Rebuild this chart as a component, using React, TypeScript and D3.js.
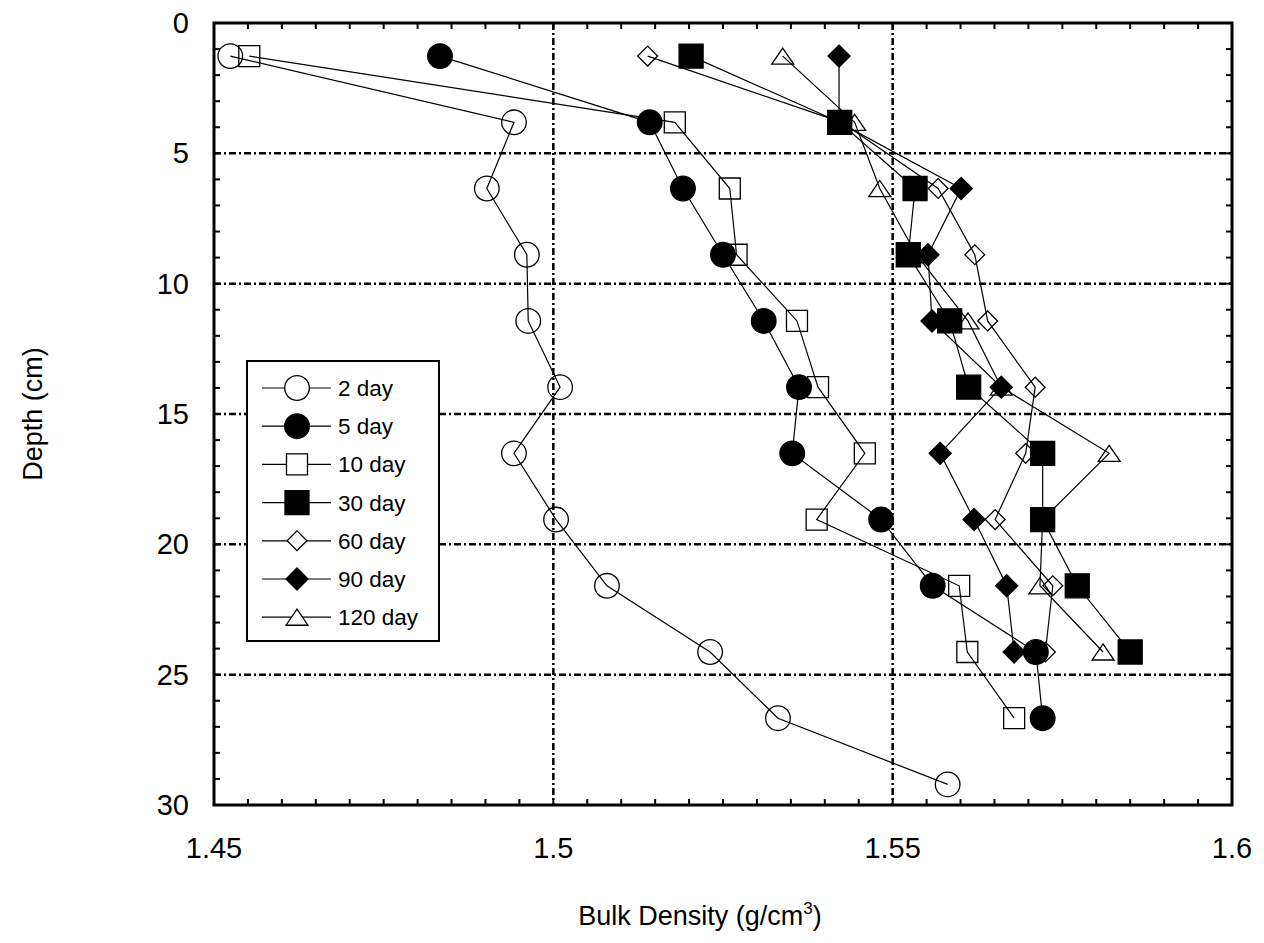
import React from "react";
import * as d3 from "d3";

const depths = [1.27, 3.81, 6.35, 8.89, 11.43, 13.97, 16.51, 19.05, 21.59, 24.13, 26.67, 29.21];
const day2 = [1.4524, 1.4942, 1.4902, 1.4961, 1.4963, 1.501, 1.4942, 1.5004, 1.5079, 1.5231, 1.5331, 1.5581];
const day5 = [1.4833, 1.5142, 1.5191, 1.525, 1.531, 1.5362, 1.5352, 1.5483, 1.5559, 1.5711, 1.5721];
const day10 = [1.4552, 1.5179, 1.526, 1.527, 1.5359, 1.539, 1.5459, 1.5388, 1.5598, 1.561, 1.5679];
const day30 = [1.5203, 1.5422, 1.5533, 1.5523, 1.5584, 1.5612, 1.5721, 1.5721, 1.5772, 1.585];
const day60 = [1.5139, 1.5425, 1.5567, 1.5621, 1.564, 1.571, 1.5696, 1.5651, 1.5736, 1.5725];
const day90 = [1.5421, 1.5421, 1.5601, 1.5552, 1.5558, 1.566, 1.557, 1.562, 1.5668, 1.5679];
const day120 = [1.5338, 1.5444, 1.5481, 1.5535, 1.5611, 1.566, 1.5819, 1.5721, 1.5717, 1.581];

const seriesNames = ["2 day", "5 day", "10 day", "30 day", "60 day", "90 day", "120 day"];
const seriesValues = [day2, day5, day10, day30, day60, day90, day120];
const markerKinds = ["circle", "circle", "square", "square", "diamond", "diamond", "triangle"];
const markerFilled = [false, true, false, true, false, true, false];

const xTicks = [1.45, 1.5, 1.55, 1.6];
const xTickLabels = ["1.45", "1.5", "1.55", "1.6"];
const yTicks = [0, 5, 10, 15, 20, 25, 30];
const xGrid = [1.5, 1.55];
const yGrid = [5, 10, 15, 20, 25];

const FONT = "'Liberation Sans', Arial, Helvetica, sans-serif";

const L = 214, R = 1232, T = 23, B = 805;

const triangleType = {
  draw(ctx: any, size: number) {
    const w = Math.sqrt(size) * 0.75;
    const h = w * 0.73;
    ctx.moveTo(0, -h);
    ctx.lineTo(w, h);
    ctx.lineTo(-w, h);
    ctx.closePath();
  },
};

function markerPath(kind: string, filled: boolean): string {
  if (kind === "circle") return d3.symbol(d3.symbolCircle, Math.PI * 12.3 * 12.3)() as string;
  if (kind === "square") return d3.symbol(d3.symbolSquare, filled ? 24 * 24 : 21 * 21)() as string;
  if (kind === "diamond") return d3.symbol(d3.symbolSquare, filled ? 15.6 * 15.6 : 14 * 14)() as string;
  return d3.symbol(triangleType as any, 215)() as string;
}

export default function App() {
  const x = d3.scaleLinear().domain([1.45, 1.6]).range([L, R]);
  const y = d3.scaleLinear().domain([0, 30]).range([T, B]);
  const line = d3
    .line<[number, number]>()
    .x((d) => x(d[0]))
    .y((d) => y(d[1]));

  const xMinor = d3.range(1.45, 1.6001, 0.005).map((v) => +v.toFixed(4));
  const yMinor = d3.range(0, 30.001, 1);

  const legendX = 247, legendY = 361, legendW = 192, legendH = 280;
  const entryY0 = 388, entryStep = 38.2;

  return (
    <svg width={1264} height={943} style={{ display: "block", position: "absolute", left: 0, top: 0, background: "#fff" }}>
      <rect x={0} y={0} width={1264} height={943} fill="#fff" />
      {/* gridlines */}
      {xGrid.map((v) => (
        <line key={"gx" + v} x1={x(v)} x2={x(v)} y1={T} y2={B} stroke="#000" strokeWidth={2.5} strokeDasharray="7,3,2,3" />
      ))}
      {yGrid.map((v) => (
        <line key={"gy" + v} x1={L} x2={R} y1={y(v)} y2={y(v)} stroke="#000" strokeWidth={2.5} strokeDasharray="7,3,2,3" />
      ))}
      {/* minor ticks */}
      {xMinor.map((v, i) => (
        <g key={"xm" + i}>
          <line x1={x(v)} x2={x(v)} y1={T} y2={T + 6} stroke="#000" strokeWidth={2} />
          <line x1={x(v)} x2={x(v)} y1={B} y2={B - 6} stroke="#000" strokeWidth={2} />
        </g>
      ))}
      {yMinor.map((v, i) => (
        <g key={"ym" + i}>
          <line x1={L} x2={L + 6} y1={y(v)} y2={y(v)} stroke="#000" strokeWidth={2} />
          <line x1={R} x2={R - 6} y1={y(v)} y2={y(v)} stroke="#000" strokeWidth={2} />
        </g>
      ))}
      {/* frame */}
      <rect x={L} y={T} width={R - L} height={B - T} fill="none" stroke="#000" strokeWidth={3} />

      {/* series lines */}
      {seriesValues.map((vals, si) => (
        <path
          key={"l" + si}
          d={line(vals.map((v, i) => [v, depths[i]] as [number, number])) as string}
          fill="none"
          stroke="#000"
          strokeWidth={1.2}
        />
      ))}
      {/* markers */}
      {seriesValues.map((vals, si) => (
        <g key={"m" + si}>
          {vals.map((v, i) => (
            <path
              key={i}
              d={markerPath(markerKinds[si], markerFilled[si])}
              transform={`translate(${x(v)},${y(depths[i])})${markerKinds[si] === "diamond" ? " rotate(45)" : ""}`}
              fill={markerFilled[si] ? "#000" : "none"}
              stroke="#000"
              strokeWidth={1.3}
            />
          ))}
        </g>
      ))}

      {/* tick labels */}
      {xTicks.map((v, i) => (
        <text key={"xt" + v} x={x(v)} y={858} textAnchor="middle" fontFamily={FONT} fontSize={29} fill="#000">
          {xTickLabels[i]}
        </text>
      ))}
      {yTicks.map((v) => (
        <text key={"yt" + v} x={189} y={y(v) + 10} textAnchor="end" fontFamily={FONT} fontSize={29} fill="#000">
          {v}
        </text>
      ))}

      {/* axis titles */}
      <text x={700} y={925} textAnchor="middle" fontFamily={FONT} fontSize={27} fill="#000">
        Bulk Density (g/cm
        <tspan fontSize={17} dy={-11}>3</tspan>
        <tspan dy={11}>)</tspan>
      </text>
      <text
        transform={`translate(42,${(T + B) / 2}) rotate(-90)`}
        textAnchor="middle"
        fontFamily={FONT}
        fontSize={27}
        fill="#000"
      >
        Depth (cm)
      </text>

      {/* legend */}
      <rect x={legendX} y={legendY} width={legendW} height={legendH} fill="#fff" stroke="#000" strokeWidth={2} />
      {seriesNames.map((name, si) => {
        const cy = entryY0 + si * entryStep;
        return (
          <g key={"lg" + si}>
            <line x1={262} x2={331} y1={cy} y2={cy} stroke="#000" strokeWidth={1.2} />
            <path
              d={markerPath(markerKinds[si], markerFilled[si])}
              transform={`translate(297,${cy})${markerKinds[si] === "diamond" ? " rotate(45)" : ""}`}
              fill={markerFilled[si] ? "#000" : "#fff"}
              stroke="#000"
              strokeWidth={1.3}
            />
            <text x={338} y={cy + 8} fontFamily={FONT} fontSize={22.5} fill="#000">
              {name}
            </text>
          </g>
        );
      })}
    </svg>
  );
}
